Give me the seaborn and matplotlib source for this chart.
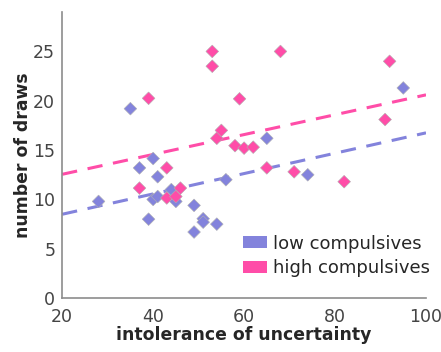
import matplotlib
matplotlib.use("Agg")
import matplotlib.pyplot as plt
from matplotlib.patches import Patch
import seaborn as sns
import pandas as pd

# low compulsives
low_iu = [28, 35, 37, 40, 41, 39, 40, 41, 44, 45, 49, 49, 51, 51, 54, 56, 65, 74, 95]
low_draws = [9.8, 19.2, 13.2, 14.15, 12.3, 8.0, 10.0, 10.3, 11.0, 9.8, 9.4, 6.7, 8.05, 7.7, 7.5, 12.0, 16.2, 12.5, 21.3]

# high compulsives
high_iu = [39, 37, 43, 43, 45, 46, 53, 53, 54, 55, 58, 59, 60, 62, 65, 68, 71, 82, 91, 92]
high_draws = [20.25, 11.15, 13.2, 10.15, 10.3, 11.15, 25, 23.5, 16.2, 17.0, 15.45, 20.2, 15.2, 15.3, 13.2, 25, 12.8, 11.8, 18.1, 24.0]

# fitted lines
fit_x = [20, 100]
low_fit = [8.5, 16.75]
high_fit = [12.55, 20.6]

low_color = "#8383DC"
high_color = "#FF4DA8"

df = pd.concat([
    pd.DataFrame({"iu": low_iu, "draws": low_draws, "group": "low compulsives"}),
    pd.DataFrame({"iu": high_iu, "draws": high_draws, "group": "high compulsives"}),
])

sns.set_style("white")
fig = plt.figure(figsize=(4.41, 3.52), dpi=100)
ax = fig.add_axes([0.141, 0.153, 0.825, 0.813])

# dashed fits
ax.plot(fit_x, high_fit, color=high_color, lw=2.2, dashes=(5, 3.5), zorder=1)
ax.plot(fit_x, low_fit, color=low_color, lw=2.2, dashes=(5, 3.5), zorder=1)

sns.scatterplot(data=df, x="iu", y="draws", hue="group",
                palette={"low compulsives": low_color, "high compulsives": high_color},
                marker="D", s=42, edgecolor="#b0b0b0", linewidth=0.4,
                legend=False, ax=ax, zorder=3)

ax.set_xlim(20, 100)
ax.set_ylim(0, 29)
ax.set_xticks([20, 40, 60, 80, 100])
ax.set_yticks([0, 5, 10, 15, 20, 25])
ax.tick_params(direction="in", length=3, width=0.8, color="#8c8c8c",
               labelsize=12.5, labelcolor="#444444")
ax.tick_params(axis="x", pad=7)
ax.tick_params(axis="y", pad=5)
for s in ["top", "right"]:
    ax.spines[s].set_visible(False)
for s in ["left", "bottom"]:
    ax.spines[s].set_color("#8c8c8c")
    ax.spines[s].set_linewidth(1.2)

ax.set_xlabel("intolerance of uncertainty", fontsize=12.4, fontweight="bold", color="#262626", labelpad=0)
ax.set_ylabel("number of draws", fontsize=12.4, fontweight="bold", color="#262626", labelpad=1)

handles = [Patch(facecolor=low_color, edgecolor="none", label="low compulsives"),
           Patch(facecolor=high_color, edgecolor="none", label="high compulsives")]
ax.legend(handles=handles, loc="lower right", frameon=False, fontsize=13,
          handlelength=1.3, handleheight=0.65, handletextpad=0.35, labelspacing=0.35,
          borderaxespad=0.2, bbox_to_anchor=(1.041, 0.036))

fig.savefig("out.png", dpi=100)
